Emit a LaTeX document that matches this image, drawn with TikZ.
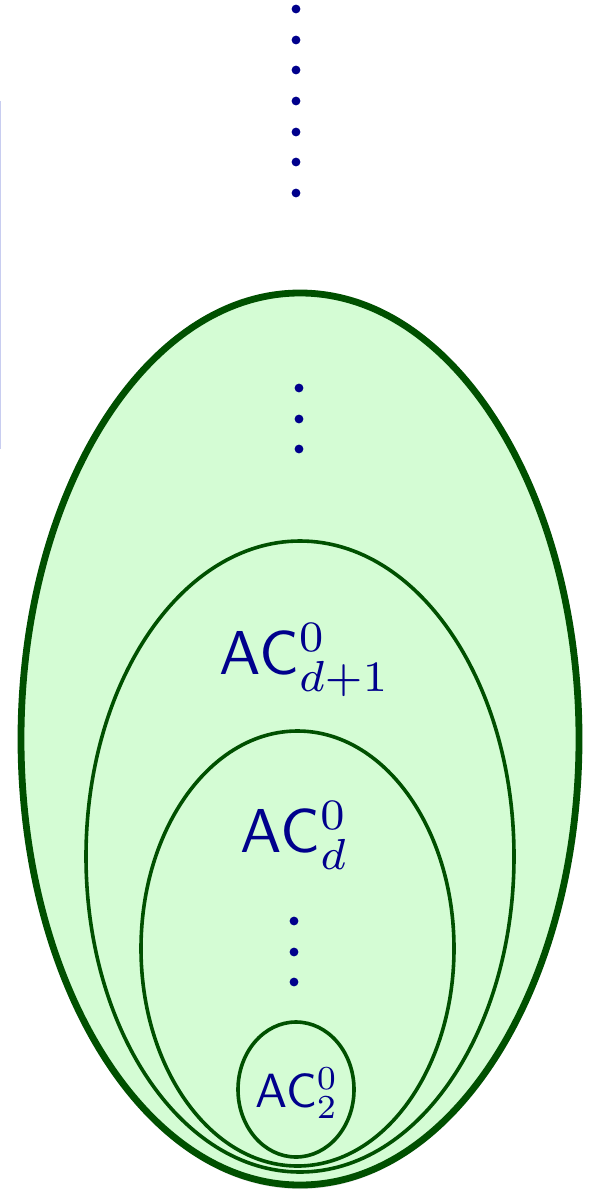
\documentclass[tikz,border=0pt]{standalone}
\usepackage{tikz}
\usetikzlibrary{shapes.geometric,shadows}
\definecolor{acgreen}{RGB}{0,80,0}
\definecolor{acfill}{RGB}{212,252,212}
\definecolor{acblue}{RGB}{0,0,140}
\definecolor{edgeblue}{RGB}{200,205,240}
\newcommand{\classname}[3]{\scalebox{#1}{\sffamily AC$^{#2}_{#3}$}}
\tikzset{
  classbox/.style={ellipse, draw=acgreen, line width=1.8pt, inner sep=0pt},
  outerbox/.style={classbox, line width=3.4pt, fill=acfill,
    drop shadow={shadow xshift=0pt, shadow yshift=-2pt, opacity=.25}},
  classlabel/.style={text=acblue, anchor=base, inner sep=0pt},
  dotmark/.style={circle, fill=acblue, inner sep=0pt, minimum size=4.4pt}
}

\begin{document}
\begin{tikzpicture}[x=0.5pt, y=-0.5pt]
\useasboundingbox (0,0) rectangle (592,1192);

% faint rule at the left edge
\coordinate (ruletop) at (0.6,101);
\coordinate (rulebot) at (0.6,449);
\draw[edgeblue, line width=0.6pt] (ruletop) -- (rulebot);

% the hierarchy above
\foreach \y in {9,40,70,101,132,162,193}
  \node[dotmark] (top\y) at (296,\y) {};

% nested classes
\node[outerbox, minimum width=279pt, minimum height=446pt] (ac) at (300,739) {};
\node[classbox, minimum width=214pt, minimum height=315.5pt] (acdone) at (300,856.5) {};
\node[classbox, minimum width=156.5pt, minimum height=217.5pt] (acd) at (297.5,948.5) {};
\node[classbox, minimum width=58pt, minimum height=67.5pt] (actwo) at (296,1089.5) {};

% labels
\node[classlabel] (lbldone) at (305,674) {\classname{3.1}{0}{d+1}};
\node[classlabel] (lbld) at (295,852) {\classname{3.1}{0}{d}};
\node[classlabel] (lbltwo) at (297,1107) {\classname{2.4}{0}{2}};

% vertical dots
\foreach \y in {388,419,449}
  \node[dotmark] (up\y) at (299,\y) {};
\foreach \y in {921,952,982}
  \node[dotmark] (low\y) at (294,\y) {};
\end{tikzpicture}
\end{document}
